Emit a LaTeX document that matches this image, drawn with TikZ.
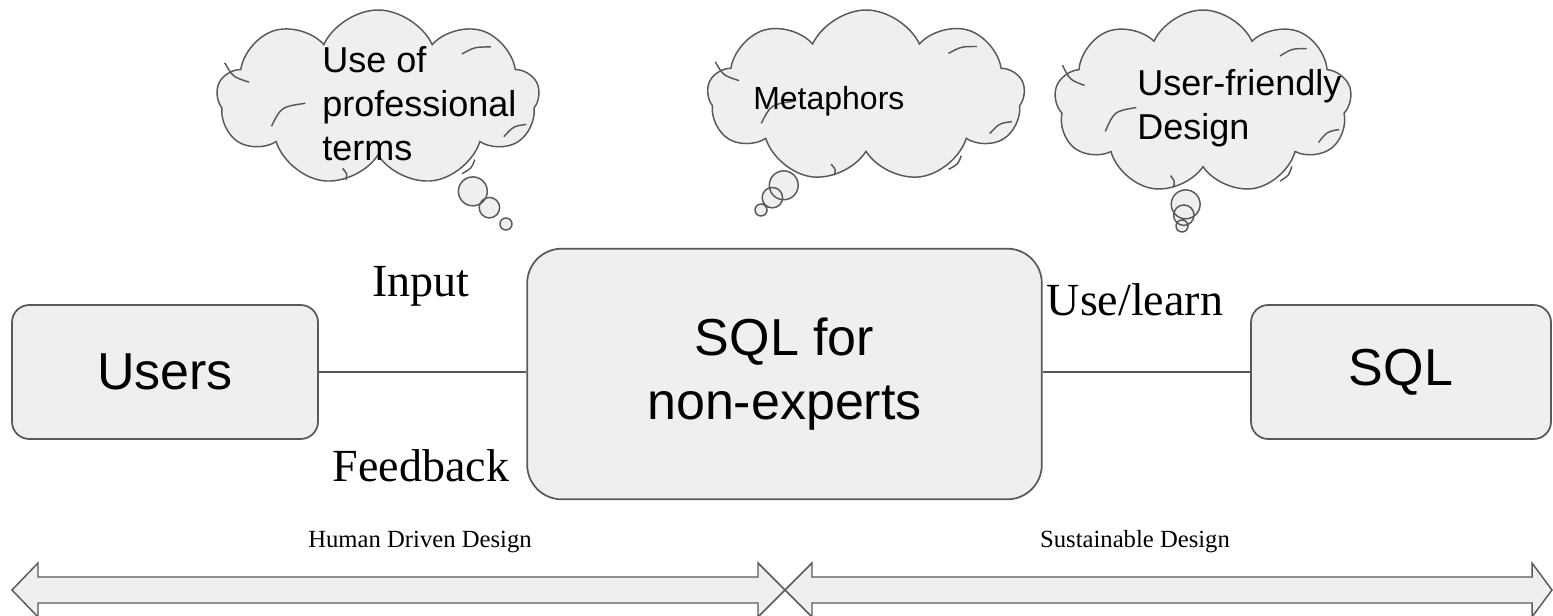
\documentclass[tikz,border=0pt]{standalone}
\usepackage{fontspec}
\setmainfont{Liberation Serif}
\setsansfont{Liberation Sans}
\usetikzlibrary{shapes.callouts, shapes.symbols, positioning}
\definecolor{boxgray}{RGB}{239,239,239}
\definecolor{edgegray}{RGB}{89,89,89}

% inner creases of a cloud, in units of its half width and half height
\newcommand{\cloudcreases}[3]{%
  \begin{scope}[shift={(#1.center)}, x=#2, y=-#3]
    \draw[crease] (-0.95,-0.40) .. controls (-0.90,-0.24) .. (-0.80,-0.18);
    \draw[crease] (-0.45,0.06) .. controls (-0.60,0.10) .. (-0.66,0.32);
    \draw[crease] (-0.22,0.80) .. controls (-0.19,0.86) .. (-0.20,0.93);
    \draw[crease] (0.60,0.70) .. controls (0.58,0.80) .. (0.52,0.86);
    \draw[crease] (0.52,-0.50) .. controls (0.60,-0.58) .. (0.70,-0.58);
    \draw[crease] (0.92,0.30) .. controls (0.84,0.32) .. (0.78,0.44);
  \end{scope}}

\begin{document}
\begin{tikzpicture}[x=0.75pt, y=-0.75pt,
  blockbox/.style={draw=edgegray, fill=boxgray, line width=1.3pt, align=center, font=\sffamily\fontsize{39}{48}\selectfont},
  thought/.style={cloud callout, cloud puffs=9, cloud puff arc=130, draw=edgegray, fill=boxgray, line width=1.1pt, inner sep=0pt, callout pointer segments=3, callout pointer start size=28pt and 28pt, callout pointer end size=9pt and 9pt},
  crease/.style={draw=edgegray, line width=1.1pt},
  thoughttext/.style={inner sep=0pt, align=left, font=\sffamily\fontsize{27}{33}\selectfont},
  linklabel/.style={inner sep=0pt, font=\fontsize{34.5}{40}\selectfont},
  bandlabel/.style={inner sep=0pt, font=\fontsize{18.5}{22}\selectfont},
  link/.style={draw=edgegray, line width=1.1pt},
  band/.style={draw=edgegray, fill=boxgray, line width=1.1pt}
]
  \clip (0,0) rectangle (1553,616);

  % thought clouds
  \node[thought, minimum width=242pt, minimum height=132pt, callout absolute pointer={(506,224)}] (cloudterms) at (378,98) {};
  \node[thought, minimum width=238pt, minimum height=129pt, callout absolute pointer={(761,210)}] (cloudmeta) at (866,96) {};
  \node[thought, minimum width=223pt, minimum height=138pt, callout absolute pointer={(1182,226)}] (cloudfriend) at (1203,102) {};
  \cloudcreases{cloudterms}{121pt}{66pt}
  \cloudcreases{cloudmeta}{119pt}{64pt}
  \cloudcreases{cloudfriend}{111pt}{69pt}
  \node[thoughttext, anchor=north west] (termstext) at (322,46) {Use of\\professional\\terms};
  \node[thoughttext, anchor=north west, font=\sffamily\fontsize{24}{30}\selectfont] (metatext) at (753,86) {Metaphors};
  \node[thoughttext, anchor=north west] (friendtext) at (1137,69) {User-friendly\\Design};

  % main boxes
  \node[blockbox, minimum width=229.5pt, minimum height=100.5pt, rounded corners=13pt] (users) at (165,372) {Users};
  \node[blockbox, minimum width=386pt, minimum height=188pt, rounded corners=26pt] (core) at (784.5,374) {SQL for\\non-experts};
  \node[blockbox, minimum width=225pt, minimum height=100.5pt, rounded corners=13pt] (sqlbox) at (1401,372) {SQL};

  \draw[link] (users) -- (users -| core.west);
  \draw[link] (core.east |- sqlbox) -- (sqlbox);
  \node[linklabel, anchor=base] (inputlabel) at (421,297) {Input};
  \node[linklabel, anchor=base] (feedbacklabel) at (421,481) {Feedback};
  \node[linklabel, anchor=base] (uselabel) at (1135,316) {Use/learn};

  % design bands
  \draw[band] (12,590) -- (38,563) -- (38,577) -- (758,577) -- (758,563) -- (785,590)
    -- (758,617) -- (758,603) -- (38,603) -- (38,617) -- cycle;
  \draw[band] (785,590) -- (812,563) -- (812,577) -- (1532,577) -- (1532,563) -- (1552,590)
    -- (1532,617) -- (1532,603) -- (812,603) -- (812,617) -- cycle;
  \node[bandlabel, anchor=base] (humanlabel) at (420,547) {Human Driven Design};
  \node[bandlabel, anchor=base] (sustlabel) at (1135,547) {Sustainable Design};
\end{tikzpicture}
\end{document}
